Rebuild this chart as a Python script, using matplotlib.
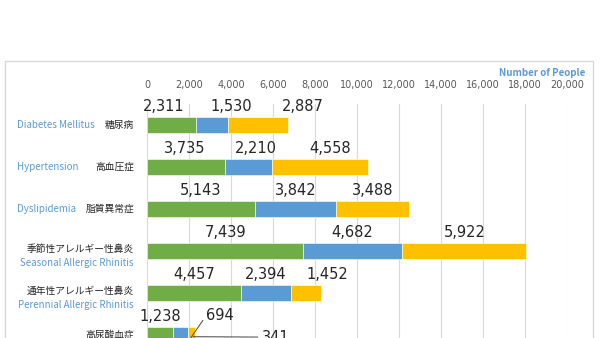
import matplotlib
matplotlib.use("Agg")
import matplotlib.pyplot as plt
from matplotlib.patches import Rectangle
from matplotlib.transforms import blended_transform_factory

# Data (number of people)
names_en = ["Diabetes Mellitus", "Hypertension", "Dyslipidemia",
            "Seasonal Allergic Rhinitis", "Perennial Allergic Rhinitis", ""]
names_jp = ["糖尿病", "高血圧症", "脂質異常症",
            "季節性アレルギー性鼻炎", "通年性アレルギー性鼻炎", "高尿酸血症"]
green_vals = [2311, 3735, 5143, 7439, 4457, 1238]
blue_vals = [1530, 2210, 3842, 4682, 2394, 694]
yellow_vals = [2887, 4558, 3488, 5922, 1452, 341]
x_ticks = list(range(0, 20001, 2000))

# label nudges (data units) so the numbers sit like in the original
green_shift = [-370, -60, 0, 0, 0, 0]
blue_shift = [920, 350, 0, 0, 0, 0]
yellow_shift = [2120, 510, 30, 30, 990, 0]

GREEN = "#70AD47"
BLUE = "#5B9BD5"
YELLOW = "#FFC000"
TXT = "#262626"
CJK = ["Noto Sans CJK JP", "DejaVu Sans"]

fig = plt.figure(figsize=(6, 3.38), dpi=100)

# outer chart frame (runs past the bottom edge, as in the crop)
fig.patches.append(Rectangle((5 / 600, -0.2), 588 / 600, 1 - 61 / 338 + 0.2,
                             transform=fig.transFigure, fill=False,
                             edgecolor="#D9D9D9", lw=1))

ax = fig.add_axes([147 / 600, 1 - 356 / 338, 420 / 600, 252 / 338])

n = len(green_vals)
ypos = list(range(n))
left_blue = [g for g in green_vals]
left_yellow = [g + b for g, b in zip(green_vals, blue_vals)]

ax.barh(ypos, green_vals, height=0.4, color=GREEN, edgecolor="white", lw=0.4, zorder=3)
ax.barh(ypos, blue_vals, left=left_blue, height=0.4, color=BLUE, edgecolor="white", lw=0.4, zorder=3)
ax.barh(ypos, yellow_vals, left=left_yellow, height=0.4, color=YELLOW, edgecolor="white", lw=0.4, zorder=3)

ax.set_xlim(0, 20000)
ax.set_ylim(n - 0.5, -0.5)
ax.set_xticks(x_ticks)
ax.set_xticklabels([f"{t:,}" for t in x_ticks])
ax.xaxis.tick_top()
ax.tick_params(axis="x", length=0, pad=10, labelsize=7, labelcolor="#595959")
ax.set_yticks([])
ax.grid(axis="x", color="#D9D9D9", lw=0.8, zorder=0)
for s in ax.spines.values():
    s.set_visible(False)

# data labels above each segment
for i in range(n):
    g, b, y = green_vals[i], blue_vals[i], yellow_vals[i]
    ax.text(g / 2 + green_shift[i], i - 0.44, f"{g:,}", ha="center", va="center",
            fontsize=10.5, color=TXT, zorder=4)
    if i < n - 1:
        ax.text(g + b / 2 + blue_shift[i], i - 0.44, f"{b:,}", ha="center", va="center",
                fontsize=10.5, color=TXT, zorder=4)
        ax.text(g + b + y / 2 + yellow_shift[i], i - 0.44, f"{y:,}", ha="center", va="center",
                fontsize=10.5, color=TXT, zorder=4)

# small segments of the last row get leader lines
last = n - 1
g, b, y = green_vals[last], blue_vals[last], yellow_vals[last]
ax.annotate(f"{b:,}", xy=(g + b - 30, last + 0.2), xytext=(g + b + 900, last - 0.47),
            ha="left", va="center", fontsize=10.5, color=TXT, zorder=5,
            arrowprops=dict(arrowstyle="-", color="#595959", lw=0.8,
                            shrinkA=1, shrinkB=0, relpos=(0, 0.5)))
ax.annotate(f"{y:,}", xy=(g + b + y - 80, last + 0.04), xytext=(g + b + y + 3200, last + 0.05),
            ha="left", va="center", fontsize=10.5, color=TXT, zorder=5,
            arrowprops=dict(arrowstyle="-", color="#595959", lw=0.8,
                            shrinkA=1, shrinkB=0, relpos=(0, 0.5)))

# category labels: English (blue) + Japanese (black)
tr = blended_transform_factory(fig.transFigure, ax.transData)
right_x = 134 / 600
for i in range(n):
    en, jp = names_en[i], names_jp[i]
    if len(jp) > 6:
        ax.text(right_x, i - 0.05, jp, transform=tr, ha="right", va="center",
                fontsize=7, color="#262626", family=CJK)
        ax.text(right_x, i + 0.29, en, transform=tr, ha="right", va="center",
                fontsize=7, color=BLUE, family=CJK)
    else:
        ax.text(right_x, i, jp, transform=tr, ha="right", va="center",
                fontsize=7, color="#262626", family=CJK)
        if en:
            ax.text(17 / 600, i, en, transform=tr, ha="left", va="center",
                    fontsize=7, color=BLUE, family=CJK)

fig.text(585 / 600, 1 - 73 / 338, "Number of People", ha="right", va="center",
         fontsize=7, fontweight="bold", color=BLUE, family=CJK)

fig.savefig("out.png", dpi=100)
